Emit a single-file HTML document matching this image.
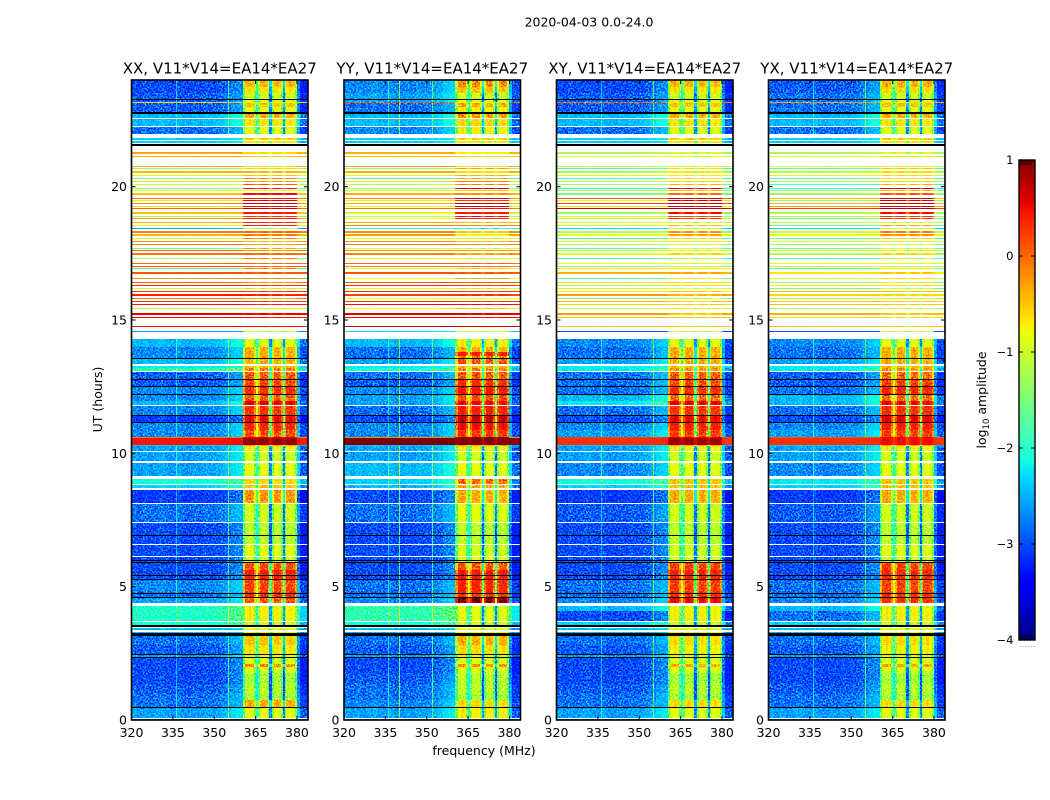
<!DOCTYPE html>
<html>
<head>
<meta charset="utf-8">
<title>2020-04-03 0.0-24.0</title>
<style>
html,body{margin:0;padding:0;background:#fff;}
svg{display:block;font-family:"DejaVu Sans","Liberation Sans",sans-serif;fill:#000;}
</style>
</head>
<body>
<svg id="figure" xmlns="http://www.w3.org/2000/svg" width="1050" height="800" viewBox="0 0 1050 800">
  <defs>
    <filter id="speckle" x="0" y="0" width="100%" height="100%" color-interpolation-filters="sRGB">
      <feTurbulence type="fractalNoise" baseFrequency="0.6" numOctaves="2" seed="7"/>
      <feColorMatrix type="matrix" values="3 0 0 0 -1.15  3 0 0 0 -1.15  3 0 0 0 -1.15  0 0 0 0 1"/>
    </filter>
  </defs>
  <text x="589" y="26.5" font-size="12.5" text-anchor="middle">2020-04-03 0.0-24.0</text>
  <text x="484" y="755" font-size="12.5" text-anchor="middle">frequency (MHz)</text>
  <text transform="translate(102,399.5) rotate(-90)" font-size="12.5" text-anchor="middle">UT (hours)</text>
  <text transform="translate(986,400) rotate(-90)" font-size="12.5" text-anchor="middle">log<tspan font-size="8.5" dy="3">10</tspan><tspan dy="-3"> amplitude</tspan></text>
  <g id="plots"></g>
  <g id="colorbar"></g>
</svg>
<script>
// Panel titles and polarisation order
const panelTitles = ["XX, V11*V14=EA14*EA27", "YY, V11*V14=EA14*EA27", "XY, V11*V14=EA14*EA27", "YX, V11*V14=EA14*EA27"];
const polarizations = ["xx", "yy", "xy", "yx"];

// Tick labels
const freqTicks = [320, 335, 350, 365, 380];
const hourTicks = [0, 5, 10, 15, 20];
const amplitudeTicks = [1, 0, -1, -2, -3, -4];

// Frequency channels (MHz) and per-channel offset from the row level (log10 amplitude)
const freqEdges = [320,322,324,326,328,330,332,334,336,338,340,342,344,346,348,350,352,354,356,358,360,360.4,
  361.2,362.5,363.5,364.4,365,365.8,366.5,367.5,368.5,369.4,370,370.8,371.5,372.5,373.5,374.2,374.8,375.5,376.2,377.2,378.2,379.2,380,381,384];
const channelOffset = [0.03,-0.05,0.03,-0.03,0,0.05,0,-0.03,0.03,-0.03,-0.05,0,-0.03,0.03,0,0.03,0.08,0.15,0.25,0.3,0.3,
  -0.55,0.05,0.15,0.05,-0.5,-1.0,-0.5,0.05,0.1,0.05,-0.4,-1.7,-0.45,0.05,0.1,0,-0.45,-1.7,-0.4,0,0.1,0,-0.45,0.2,-0.3];
const channelInBand = [0,0,0,0,0,0,0,0,0,0,0,0,0,0,0,0,0,0,0,0,0,
  1,1,1,1,1,1,1,1,1,1,1,1,1,1,1,1,1,1,1,1,1,1,1,0,0];

// Narrow interference lines per panel (MHz) and how far they sit above the floor
const rfiLinesXX = [336, 355];
const rfiLinesYY = [336, 340, 352];
const rfiLinesXY = [336, 355];
const rfiLinesYX = [336, 355];
const rfiBoost = [0.5, 1.2, 1.0];

// Integration length: 640 bins across 24 hours, bin 0 at 24 h
const binHours = 0.0375;

// Time ranges (first bin, bin count) carrying visible receiver noise
const noisyBinStart = [0, 259, 366];
const noisyBinCount = [66, 98, 274];

// Rows: [first bin, bin count, xx floor, xx band, yy floor, yy band, xy floor, xy band, yx floor, yx band]
const rowsEvening = [
  [0,7,-2.9,-.55,-2.6,-.35,-2.9,-.55,-2.8,-.5],
  [7,6,-2.9,-.75,-2.6,-.6,-2.9,-.75,-2.8,-.7],
  [13,9,-2.8,-1,-2.5,-1,-2.8,-1,-2.7,-1],
  [22,1,-.6,-.8,-.1,-.8,-.2,-.7,-.4,-.7],
  [23,4,-2.8,-.6,-2.7,-.5,-2.8,-.6,-2.7,-.6],
  [27,7,-2.8,-.9,-2.7,-.8,-2.8,-.9,-2.7,-.9],
  [34,4,-2.4,-.5,-2.4,-.4,-2.4,-.5,-2.4,-.5],
  [39,7,-2.4,-.75,-2.4,-.7,-2.4,-.75,-2.4,-.75],
  [47,7,-2.7,-.9,-2.6,-.8,-2.7,-.9,-2.7,-.9],
  [58,2,-2.3,-.6,-2.3,-.6,-2.3,-.6,-2.3,-.6],
  [61,2,-2.3,-.7,-2.3,-.7,-2.3,-.7,-2.3,-.7]
];
const rowsStripes = [
  [72,2,-.35,-.6,-.4,-.7,-1.2,-.9,-1.2,-.9],
  [76,1,-.4,-.5,-.5,-.6,-1,-.8,-1,-.7],
  [86,1,-.35,-.6,-.3,-.6,-1.1,-.9,-1,-.7],
  [88,1,-1.4,-.6,-1.4,-.3,-1.8,-.6,-1.7,-.5],
  [91,2,-.45,-.4,-.4,-.6,-1.2,-.7,-1.1,-.6],
  [95,1,-.7,-.5,-.7,-.4,-.9,-.7,-1,-.6],
  [98,1,-1.6,-.1,-1.8,-.3,-1.9,-.6,-1.8,-.6],
  [101,1,-.6,-.3,-.6,-.1,-1.1,-.5,-1.2,-.5],
  [104,1,-1,.1,-1,-.1,-1.3,-.4,-1.8,-.4],
  [108,1,-1.4,.45,-1.3,.7,-2,.6,-2,.7],
  [110,1,-1,-.8,-.9,-.5,-1.2,-.4,-1.3,-.4],
  [113,2,-.5,.5,-.4,-.2,-1.5,0,-1.3,.1],
  [118,1,-.1,.5,-.2,.7,.1,.7,-.4,.7],
  [120,1,-.7,.6,-.7,.3,-1,.7,-1.4,.7],
  [123,1,-.2,.7,-.4,.7,.2,.7,-.4,.7],
  [126,1,-.6,.6,-.7,.7,-.6,.7,-.3,.7],
  [128,1,0,.7,-.1,.5,.6,.8,.2,.8],
  [132,2,-.5,.45,-.9,.45,-1.3,.5,-1.2,.5],
  [136,1,-1.2,.3,-1.1,.5,-.9,.2,-1.2,.3],
  [138,1,-.3,.45,-.8,.4,-1.1,.3,-1.5,.3],
  [142,1,-.4,.4,-.4,-.4,-1,-.9,-1.1,-.9],
  [145,1,-.7,.4,-.1,-.1,-1,-.4,-1.6,-.3],
  [148,1,-2.5,-1,-2,-2,-2.3,-1,-2.3,-1],
  [151,2,-.1,0,-.2,-.5,-1.2,-.2,-1,-.1],
  [154,2,-.4,-.1,-.3,-.7,-.9,-.3,-.9,-.2],
  [158,1,-1,-.1,-.8,-.8,-1.7,-.6,-1.5,-.6],
  [161,1,-.2,-.4,-.2,-.4,-.9,-.7,-1,-.7],
  [164,1,-.1,-.3,-.1,-.2,-1.2,-.9,-1.3,-.9],
  [168,1,-1.5,-.3,-1,-1,-1.6,-.8,-1.5,-.8],
  [170,1,-.05,-.2,-.2,-.2,-1.1,-.9,-1,-.9],
  [173,2,-.05,0,-.15,-.3,-.9,-.6,-1.2,-.6],
  [178,1,-1.4,-.1,-.9,-.9,-1.9,-1,-1.8,-1],
  [183,1,0,0,0,0,-.8,-.8,-.8,-.8],
  [186,1,.1,.05,-.1,0,-1.4,-.9,-1.1,-.9],
  [188,1,-1.6,-.1,-.9,-.5,-.7,-.7,-1.6,-.7],
  [192,2,.1,.1,.1,.1,-.4,-.3,-.7,-.5],
  [198,1,-.2,-.1,-.8,-.3,-1.7,-.7,-.9,-.6],
  [202,1,0,-.2,.1,.1,-.6,-.6,-1.5,-.7],
  [205,1,.3,.3,.3,.3,-1.1,-.6,-.7,-.6],
  [208,1,-1,-.6,-.9,-.6,-.9,-.8,-1.6,-.9],
  [211,1,.3,.3,.3,.3,-.7,-.5,-.5,-.5],
  [214,2,.4,.4,.2,.3,-.3,-.4,-.6,-.6],
  [218,1,-.1,-.3,-.8,-.8,-1.4,-.9,-1.1,-.8],
  [221,1,.3,.3,.3,.3,-.4,-.5,-.5,-.5],
  [224,1,.45,.4,.5,.5,-.6,-.5,-.5,-.5],
  [228,1,-1,-.7,-.8,-.5,-1,-.7,-1.2,-.9],
  [233,2,.55,.55,.6,.6,-.3,-.5,-.4,-.5],
  [237,1,.5,.5,.5,.5,-.5,-.5,-.6,-.6],
  [246,1,.5,.5,.7,.7,-.5,-.5,-.5,-.5],
  [251,1,-2.6,-1,-2.3,-.9,-3,-1,-3,-1]
];
const rowsMidday = [
  [259,8,-2.4,-.9,-2.4,-.8,-2.6,-.9,-2.6,-.9],
  [267,5,-2.6,-.5,-2.7,-.5,-2.7,-.5,-2.7,-.5],
  [272,4,-2.6,-.5,-2.7,.3,-2.7,-.5,-2.7,-.5],
  [276,3,-2.6,-.5,-2.7,-.3,-2.7,-.5,-2.7,-.5],
  [279,5,-2.4,-.5,-2.5,-.1,-2.5,-.5,-2.5,-.5],
  [286,2,-2.2,-.5,-2.2,-.5,-2.2,-.5,-2.2,-.5],
  [288,3,-1.9,-.3,-2.1,-.3,-2.2,-.4,-2.2,-.4],
  [292,7,-2.8,-.1,-2.7,-.1,-2.7,-.1,-2.8,-.2],
  [299,7,-2.8,.05,-2.8,.2,-2.7,0,-2.8,.1],
  [306,8,-2.6,.2,-2.6,.35,-2.7,.2,-2.7,.25],
  [314,7,-2.6,-.1,-2.5,0,-2.4,-.2,-2.4,-.2],
  [321,4,-2.4,.5,-2.5,.45,-2.2,.5,-2.4,.45],
  [326,10,-2.6,.15,-2.7,.3,-2.7,.15,-2.7,.2],
  [336,7,-3,.45,-2.9,.6,-2.9,.45,-2.9,.5],
  [343,7,-2.6,.25,-2.6,.4,-2.6,.3,-2.6,.3],
  [350,7,-2.6,0,-2.6,.15,-2.5,.1,-2.5,.1],
  [357,1,-.1,.6,-.2,.9,.2,.6,.1,.5],
  [358,7,.45,.9,1,1,.3,.85,.3,.5],
  [365,1,-2.4,-.3,-2.4,-.3,-2.4,-.3,-2.4,-.3],
  [366,5,-2.5,-.8,-2.5,-.8,-2.5,-.8,-2.5,-.8],
  [372,9,-2.5,-1,-2.5,-1,-2.5,-1,-2.5,-1],
  [383,13,-2.5,-.9,-2.4,-.9,-2.6,-.9,-2.6,-.9],
  [399,5,-2.1,-.7,-2.3,-.2,-2.1,-.6,-2.2,-.6],
  [405,3,-2.3,-.6,-2.4,-.5,-2.3,-.6,-2.3,-.6]
];
const rowsMorning = [
  [410,13,-3,-.4,-2.9,-.5,-3,-.5,-3,-.5],
  [424,18,-2.7,-1,-2.7,-.9,-2.8,-1,-2.8,-1],
  [443,21,-2.9,-1.1,-2.9,-1.1,-2.9,-1.1,-2.9,-1.1],
  [465,11,-2.9,-.9,-2.9,-1,-2.9,-1,-2.9,-.9],
  [477,5,-2.9,-1,-2.9,-.9,-2.9,-1,-2.9,-1],
  [482,8,-2.9,-.05,-2.9,-.1,-2.9,.05,-2.9,.05],
  [490,10,-2.9,.3,-2.9,.35,-2.9,.3,-2.9,.25],
  [500,12,-2.6,.05,-2.7,.25,-2.7,.1,-2.7,.05],
  [512,6,-2.7,.2,-2.7,.2,-2.7,.2,-2.7,.2],
  [518,5,-2.5,-.1,-2.6,.9,-2.6,.45,-2.6,.2],
  [526,5,-2,-.8,-1.9,-.9,-2.4,-.8,-2.4,-.8],
  [531,10,-2,-.8,-1.9,-.9,-2.9,-.8,-2.7,-.8],
  [542,3,-2.1,-1,-2.1,-1,-2.3,-1,-2.3,-1],
  [548,2,-2.4,-.8,-2.4,-.8,-2.4,-.8,-2.4,-.8],
  [552,2,-2.4,-.8,-2.4,-.8,-2.4,-.8,-2.4,-.8],
  [556,9,-2.7,-.6,-2.7,-.5,-2.7,-.7,-2.7,-.7],
  [565,10,-2.8,-.75,-2.8,-.7,-2.8,-.8,-2.8,-.8],
  [575,3,-2.5,-.9,-2.5,-.9,-2.5,-.9,-2.5,-.9],
  [578,6,-2.9,-.95,-2.9,-.95,-2.9,-.95,-2.9,-.95],
  [584,3,-2.9,-.35,-2.9,-.4,-2.9,-.5,-2.9,-.5],
  [587,6,-2.9,-.95,-2.9,-.95,-2.9,-.95,-2.9,-.95],
  [593,11,-2.9,-1.2,-2.8,-1.1,-2.9,-1.2,-2.9,-1.2],
  [604,10,-2.8,-1.1,-2.7,-1.1,-2.8,-1.1,-2.8,-1.1],
  [614,6,-2.7,-1.2,-2.7,-1.2,-2.7,-1.2,-2.7,-1.2],
  [620,8,-2.7,-.5,-2.6,-.7,-2.7,-.7,-2.7,-.7],
  [628,10,-2.5,-.9,-2.5,-.8,-2.5,-.9,-2.5,-.9],
  [639,1,-2.6,-.9,-2.6,-.9,-2.6,-.9,-2.6,-.9]
];

// Fully flagged (black) integrations, in bins
const flaggedBins = [19,32,33,64,65,278,299,306,314,335,342,455,480,482,495,499,513,517,545,546,553,554,555,574,577,627];

// ----- scales -----
const panelLefts = [131.5, 344, 556.5, 768.5];
const plotWidth = 176.5, plotTop = 80, plotHeight = 640;
const freqMin = 320, freqMax = 384, hourMax = 24;
const ampMin = -4, ampMax = 1, cbarTop = 160, cbarHeight = 480, cbarLeft = 1019, cbarWidth = 16;
function xScale(panel, f) { return panelLefts[panel] + (f - freqMin) / (freqMax - freqMin) * plotWidth; }
function yScale(h) { return plotTop + (hourMax - h) / hourMax * plotHeight; }
function ampScale(v) { return cbarTop + (ampMax - v) / (ampMax - ampMin) * cbarHeight; }
function clamp01(a) { return a < 0 ? 0 : a > 1 ? 1 : a; }
function jet(v) {
  const t = clamp01((v - ampMin) / (ampMax - ampMin));
  let r, g, b;
  r = t < .35 ? 0 : t < .66 ? (t - .35) / .31 : t < .89 ? 1 : 1 - (t - .89) / .11 * .5;
  g = t < .125 ? 0 : t < .375 ? (t - .125) / .25 : t < .64 ? 1 : t < .91 ? 1 - (t - .64) / .27 : 0;
  b = t < .11 ? .5 + t / .11 * .5 : t < .34 ? 1 : t < .65 ? 1 - (t - .34) / .31 : 0;
  return "rgb(" + Math.round(r * 255) + "," + Math.round(g * 255) + "," + Math.round(b * 255) + ")";
}
const NS = "http://www.w3.org/2000/svg";
function make(parent, tag, props) {
  const el = document.createElementNS(NS, tag);
  for (const k in props) el.setAttribute(k, props[k]);
  parent.appendChild(el);
  return el;
}

const allRows = rowsEvening.concat(rowsStripes, rowsMidday, rowsMorning);
const rfiByPanel = [rfiLinesXX, rfiLinesYY, rfiLinesXY, rfiLinesYX];
const plotsRoot = document.getElementById("plots");

polarizations.forEach(function (pol, p) {
  const left = panelLefts[p];
  const g = make(plotsRoot, "g", { style: "isolation:isolate" });
  
  

  const plotBg = make(g, "rect", { x: left, y: plotTop, width: plotWidth, height: plotHeight, fill: "#fff" });
  
  

  const cellsGroup = make(g, "g", { "shape-rendering": "crispEdges" });
  
  

  allRows.forEach(function (row) {
    const y0 = Math.round(yScale(hourMax - row[0] * binHours));
    const y1 = Math.round(yScale(hourMax - (row[0] + row[1]) * binHours));
    const floorLevel = row[2 + 2 * p], bandLevel = row[3 + 2 * p];
    const scale = floorLevel > -1 ? 0.15 : row[1] <= 2 ? 0.35 : 1;
    for (let c = 0; c < channelOffset.length; c++) {
      const base = channelInBand[c] ? bandLevel : floorLevel;
      const x0 = Math.round(xScale(p, freqEdges[c]));
      const x1 = Math.round(xScale(p, freqEdges[c + 1]));
      const cell = make(cellsGroup, "rect", { x: x0, y: y0, width: x1 - x0, height: y1 - y0, fill: jet(base + channelOffset[c] * scale) });
      
      
    }
    if (row[1] > 2 && floorLevel < -1.6) {
      rfiByPanel[p].forEach(function (f, i) {
        const line = make(cellsGroup, "rect", { x: Math.round(xScale(p, f)), y: y0, width: 1, height: y1 - y0, fill: jet(floorLevel + rfiBoost[i]) });
        
        
      });
    }
  });

  noisyBinStart.forEach(function (b, i) {
    const speckle = make(g, "rect", { x: left, y: plotTop + b, width: plotWidth, height: noisyBinCount[i], filter: "url(#speckle)", opacity: 0.85, style: "mix-blend-mode:overlay" });
    
    
  });

  flaggedBins.forEach(function (b) {
    const flag = make(g, "rect", { x: left, y: Math.round(yScale(hourMax - b * binHours)), width: plotWidth, height: 1, fill: "#000", "shape-rendering": "crispEdges" });
    
    
  });

  const frame = make(g, "rect", { x: left, y: plotTop, width: plotWidth, height: plotHeight, fill: "none", stroke: "#000", "stroke-width": 1.6 });
  
  

  const title = make(g, "text", { x: left + plotWidth / 2, y: 73.5, "font-size": 15, "text-anchor": "middle" });
  title.textContent = panelTitles[p];
  
  

  freqTicks.forEach(function (f) {
    const x = xScale(p, f);
    const t1 = make(g, "line", { x1: x, x2: x, y1: plotTop + plotHeight, y2: plotTop + plotHeight - 4, stroke: "#000", "stroke-width": 1 });
    
    
    const t2 = make(g, "line", { x1: x, x2: x, y1: plotTop, y2: plotTop + 4, stroke: "#000", "stroke-width": 1 });
    
    
    const lab = make(g, "text", { x: x, y: 737, "font-size": 12.5, "text-anchor": "middle" });
    lab.textContent = String(f);
    
    
  });
  hourTicks.forEach(function (h) {
    const y = yScale(h);
    const t1 = make(g, "line", { x1: left, x2: left + 4, y1: y, y2: y, stroke: "#000", "stroke-width": 1 });
    
    
    const t2 = make(g, "line", { x1: left + plotWidth, x2: left + plotWidth - 4, y1: y, y2: y, stroke: "#000", "stroke-width": 1 });
    
    
    const lab = make(g, "text", { x: left - 4.5, y: y + 4.5, "font-size": 12.5, "text-anchor": "end" });
    lab.textContent = String(h);
    
    
  });
});

// ----- colorbar -----
const cbar = document.getElementById("colorbar");
const cbarGroup = make(cbar, "g", { "shape-rendering": "crispEdges" });


for (let i = 0; i < cbarHeight; i++) {
  const v = ampMax - (i + .5) / cbarHeight * (ampMax - ampMin);
  const band = make(cbarGroup, "rect", { x: cbarLeft, y: Math.round(ampScale(v) - .5), width: cbarWidth, height: 1, fill: jet(v) });
  
  
}
const cbarFrame = make(cbar, "rect", { x: cbarLeft, y: cbarTop, width: cbarWidth, height: cbarHeight, fill: "none", stroke: "#000", "stroke-width": 1.4 });


amplitudeTicks.forEach(function (v) {
  const y = ampScale(v);
  const a = make(cbar, "line", { x1: cbarLeft, x2: cbarLeft + 4, y1: y, y2: y, stroke: "#000", "stroke-width": 1 });
  
  
  const b = make(cbar, "line", { x1: cbarLeft + cbarWidth, x2: cbarLeft + cbarWidth - 4, y1: y, y2: y, stroke: "#000", "stroke-width": 1 });
  
  
  const lab = make(cbar, "text", { x: 1013.5, y: y + 4, "font-size": 11.5, "text-anchor": "end" });
  lab.textContent = String(v).replace("-", "\u2212");
  
  
});
[2, 4, 6, 8, 10, 12].forEach(function (dx) {
  const topTick = make(cbar, "line", { x1: cbarLeft + dx, x2: cbarLeft + dx, y1: cbarTop, y2: cbarTop + 5, stroke: "#000", "stroke-width": .7 });
  
  
  const botTick = make(cbar, "line", { x1: cbarLeft + dx, x2: cbarLeft + dx, y1: cbarTop + cbarHeight, y2: cbarTop + cbarHeight - 5, stroke: "#000", "stroke-width": .7 });
  
  
  const dot = make(cbar, "rect", { x: cbarLeft - 2 + dx * 1.4, y: 646, width: 1, height: 1, fill: "#999" });
  
  
});
</script>
</body>
</html>
